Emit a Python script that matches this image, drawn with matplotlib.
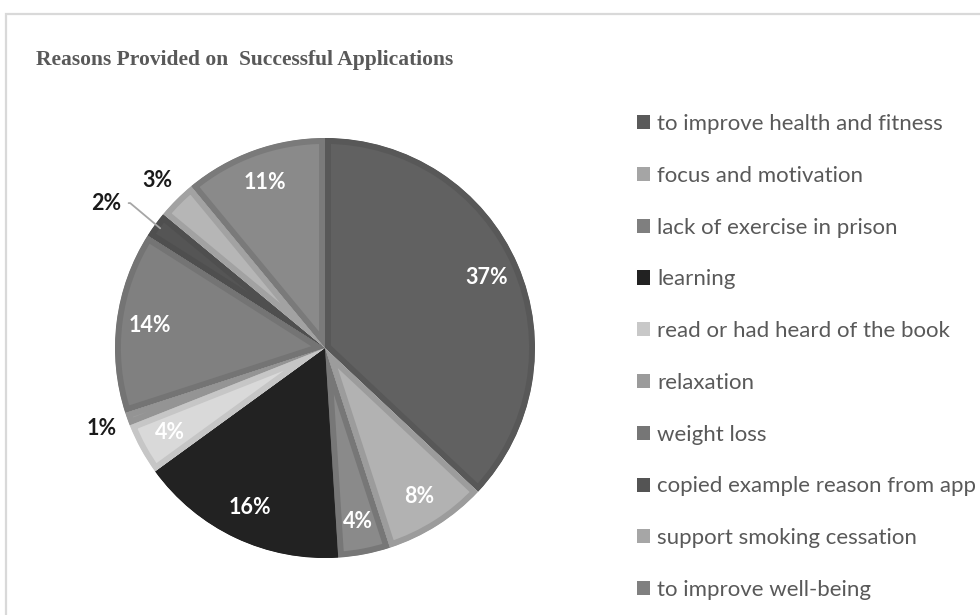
import matplotlib.pyplot as plt
from matplotlib.patches import Patch, Rectangle
import numpy as np

# ---- data ----
reasons = [
    "to improve health and fitness",
    "focus and motivation",
    "lack of exercise in prison",
    "learning",
    "read or had heard of the book",
    "relaxation",
    "weight loss",
    "copied example reason from app",
    "support smoking cessation",
    "to improve well-being",
]
shares = [37, 8, 4, 16, 4, 1, 14, 2, 3, 11]

# fill / rim greys for every slice
fill_colors = ["#616161", "#b2b2b2", "#8a8a8a", "#222222", "#d9d9d9",
               "#9c9c9c", "#808080", "#555555", "#b6b6b6", "#8a8a8a"]
rim_colors = ["#585858", "#9c9c9c", "#777777", "#222222", "#c6c6c6",
              "#949494", "#747474", "#4f4f4f", "#a2a2a2", "#7a7a7a"]
legend_colors = ["#5a5a5a", "#a5a5a5", "#7f7f7f", "#222222", "#c8c8c8",
                 "#9b9b9b", "#767676", "#545454", "#a6a6a6", "#808080"]

TEXT_GREY = "#595959"

fig = plt.figure(figsize=(9.8, 6.15), dpi=100)

# light chart-area frame (runs off the right/bottom edge)
fig.patches.append(Rectangle((6 / 980, -0.05), 1.2, (615 - 14) / 615 + 0.05,
                             transform=fig.transFigure, fill=False,
                             edgecolor="#d9d9d9", linewidth=1.6))

ax = fig.add_axes([115 / 980, 57 / 615, 420 / 980, 420 / 615])
wedges, _ = ax.pie(shares, colors=fill_colors, startangle=90,
                   counterclock=False, radius=1.0)
ax.set_xlim(-1, 1)
ax.set_ylim(-1, 1)
ax.set_aspect("equal")
ax.axis("off")

# inner rim: wide edge clipped to the wedge itself
for w, rc in zip(wedges, rim_colors):
    w.set_edgecolor(rc)
    w.set_linewidth(8.5)
    w.set_joinstyle("miter")
    w.set_clip_on(True)
    w.set_clip_path(w)

label_font = dict(family="Lato", weight="bold", fontsize=15.5)
total = sum(shares)
cum = 0
for i, s in enumerate(shares):
    mid = 90 - (cum + s / 2) / total * 360
    cum += s
    a = np.deg2rad(mid)
    txt = f"{s}%"
    if s >= 4:
        r = 0.84
        ax.text(r * np.cos(a), r * np.sin(a), txt, color="white",
                ha="center", va="center", **label_font)
    elif s == 2:
        ex, ey = 0.97 * np.cos(a), 0.97 * np.sin(a)
        ax.annotate(txt, xy=(ex, ey), xytext=(-1.04, 0.69),
                    ha="center", va="center", color="#1a1a1a",
                    arrowprops=dict(arrowstyle="-", color="#a6a6a6", lw=1.3,
                                    shrinkA=3, shrinkB=0,
                                    connectionstyle="angle,angleA=0,angleB=-40,rad=0"),
                    **label_font)
    else:
        r = 1.13
        ax.text(r * np.cos(a), r * np.sin(a), txt, color="#1a1a1a",
                ha="center", va="center", **label_font)

fig.text(245 / 980, 1 - 60 / 615, "Reasons Provided on  Successful Applications",
         family="Liberation Serif", weight="bold", fontsize=15.5,
         color=TEXT_GREY, ha="center", va="center")

handles = [Patch(facecolor=c, edgecolor="none") for c in legend_colors]
leg = fig.legend(handles, reasons, loc="upper left",
                 bbox_to_anchor=(637 / 980, 1 - 114 / 615),
                 frameon=False, prop=dict(family="Lato", size=16),
                 handlelength=0.6, handleheight=0.6, handletextpad=0.3,
                 labelspacing=1.43, borderpad=0, borderaxespad=0)
for t in leg.get_texts():
    t.set_color(TEXT_GREY)

fig.savefig("out.png", dpi=100, facecolor="white")
